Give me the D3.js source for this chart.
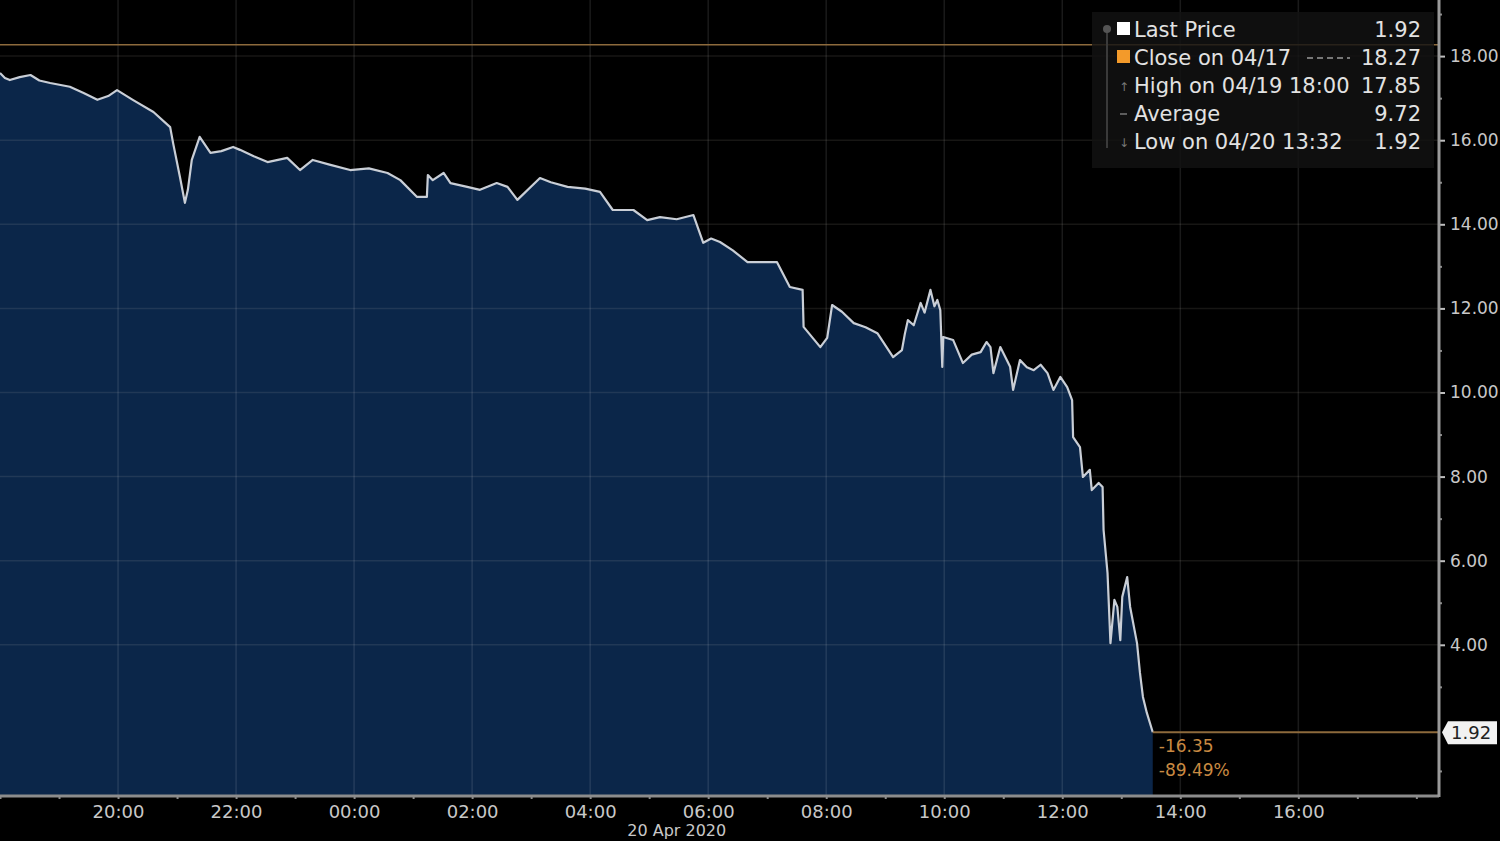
<!DOCTYPE html>
<html><head><meta charset="utf-8">
<script src="https://cdn.jsdelivr.net/npm/d3@7"></script>
<style>body{margin:0;background:#000;overflow:hidden}svg{display:block}</style>
</head><body><svg id="c" width="1500" height="841"></svg>
<script>
// ---- data ----
const times = [
"2020-04-19 18:00","2020-04-19 18:05","2020-04-19 18:10","2020-04-19 18:20","2020-04-19 18:31","2020-04-19 18:40","2020-04-19 18:51","2020-04-19 19:11",
"2020-04-19 19:25","2020-04-19 19:39","2020-04-19 19:50","2020-04-19 19:59","2020-04-19 20:15","2020-04-19 20:36","2020-04-19 20:53","2020-04-19 20:56",
"2020-04-19 21:03","2020-04-19 21:08","2020-04-19 21:11","2020-04-19 21:15","2020-04-19 21:23","2020-04-19 21:34",
"2020-04-19 21:45","2020-04-19 21:57","2020-04-19 22:04","2020-04-19 22:18","2020-04-19 22:32","2020-04-19 22:52","2020-04-19 23:05","2020-04-19 23:18",
"2020-04-19 23:35","2020-04-19 23:56","2020-04-20 00:15","2020-04-20 00:34","2020-04-20 00:47","2020-04-20 01:04","2020-04-20 01:14","2020-04-20 01:15",
"2020-04-20 01:20","2020-04-20 01:31","2020-04-20 01:38","2020-04-20 01:55","2020-04-20 02:08","2020-04-20 02:25",
"2020-04-20 02:36","2020-04-20 02:46","2020-04-20 03:09","2020-04-20 03:20","2020-04-20 03:37","2020-04-20 03:55","2020-04-20 04:10","2020-04-20 04:23",
"2020-04-20 04:44","2020-04-20 04:58","2020-04-20 05:11","2020-04-20 05:28","2020-04-20 05:45","2020-04-20 05:55","2020-04-20 06:03","2020-04-20 06:12",
"2020-04-20 06:25","2020-04-20 06:40","2020-04-20 07:10","2020-04-20 07:23","2020-04-20 07:36","2020-04-20 07:37","2020-04-20 07:54",
"2020-04-20 08:01","2020-04-20 08:06","2020-04-20 08:16","2020-04-20 08:28","2020-04-20 08:40","2020-04-20 08:52","2020-04-20 09:08","2020-04-20 09:17",
"2020-04-20 09:20","2020-04-20 09:23","2020-04-20 09:29","2020-04-20 09:36","2020-04-20 09:40","2020-04-20 09:46","2020-04-20 09:50","2020-04-20 09:53","2020-04-20 09:56","2020-04-20 09:58",
"2020-04-20 09:59","2020-04-20 10:09","2020-04-20 10:19","2020-04-20 10:28","2020-04-20 10:37","2020-04-20 10:43","2020-04-20 10:47","2020-04-20 10:50",
"2020-04-20 10:57","2020-04-20 11:07","2020-04-20 11:10","2020-04-20 11:17","2020-04-20 11:24","2020-04-20 11:31","2020-04-20 11:38","2020-04-20 11:45",
"2020-04-20 11:51","2020-04-20 11:58","2020-04-20 12:05","2020-04-20 12:10","2020-04-20 12:11","2020-04-20 12:18",
"2020-04-20 12:21","2020-04-20 12:28","2020-04-20 12:30","2020-04-20 12:37","2020-04-20 12:41","2020-04-20 12:42",
"2020-04-20 12:46","2020-04-20 12:49","2020-04-20 12:53","2020-04-20 12:56","2020-04-20 12:59","2020-04-20 13:01",
"2020-04-20 13:06","2020-04-20 13:09","2020-04-20 13:16","2020-04-20 13:19","2020-04-20 13:22","2020-04-20 13:26",
"2020-04-20 13:32"];
const prices = [
17.60,17.48,17.43,17.50,17.55,17.42,17.36,17.27,
17.12,16.96,17.05,17.19,16.96,16.67,16.31,15.93,
15.12,14.51,14.82,15.53,16.08,15.70,
15.74,15.84,15.77,15.62,15.48,15.58,15.29,15.53,
15.42,15.29,15.33,15.22,15.05,14.65,14.65,15.17,
15.05,15.22,14.98,14.89,14.82,14.98,
14.89,14.58,15.10,15.00,14.89,14.85,14.77,14.34,
14.34,14.10,14.17,14.12,14.22,13.56,13.66,13.58,
13.38,13.10,13.10,12.51,12.44,11.56,11.08,
11.30,12.08,11.92,11.65,11.55,11.41,10.84,11.01,
11.40,11.72,11.60,12.13,11.90,12.44,12.05,12.20,11.96,10.61,
11.32,11.25,10.70,10.90,10.96,11.20,11.08,10.46,
11.08,10.61,10.06,10.77,10.60,10.53,10.66,10.46,
10.06,10.37,10.13,9.82,8.94,8.70,
7.99,8.16,7.68,7.85,7.75,6.73,
5.71,4.04,5.07,4.90,4.11,5.14,
5.61,4.90,4.04,3.33,2.76,2.38,
1.92];
const closePrev = 18.27;
const lastPrice = 1.92;
const yTickValues = [4, 6, 8, 10, 12, 14, 16, 18];
const yMinorValues = [1, 3, 5, 7, 9, 11, 13, 15, 17, 19];
const legendLabels = ["Last Price", "Close on 04/17", "High on 04/19 18:00", "Average", "Low on 04/20 13:32"];
const legendValues = ["1.92", "18.27", "17.85", "9.72", "1.92"];
const changeLabels = ["-16.35", "-89.49%"];
const dateLabel = "20 Apr 2020";
const xStart = "2020-04-19 18:00", xEnd = "2020-04-20 18:22";

// ---- layout ----
const W = 1500, H = 841;
const plotR = 1438, plotB = 795;
const font = "'DejaVu Sans', sans-serif";
const parse = d3.timeParse("%Y-%m-%d %H:%M");
const data = times.map((t, i) => ({t: parse(t), v: prices[i]}));

const x = d3.scaleTime().domain([parse(xStart), parse(xEnd)]).range([0, plotR]);
const y = d3.scaleLinear().domain([0.428, 19.334]).range([plotB, 0]);

const svg = d3.select("#c");
svg.append("rect").attr("width", W).attr("height", H).attr("fill", "#000");

// area
svg.append("path").datum(data)
  .attr("fill", "#0b2649")
  .attr("d", d3.area().x(d => x(d.t)).y0(plotB).y1(d => y(d.v)));

// grid
const g = svg.append("g");
g.selectAll(".vg").data(x.ticks(d3.timeHour.every(2)).filter(d => x(d) > 5 && x(d) < plotR - 30)).join("line")
  .attr("x1", d => x(d)).attr("x2", d => x(d)).attr("y1", 0).attr("y2", plotB)
  .attr("stroke", "rgba(255,255,255,0.10)").attr("stroke-width", 1.5);
g.selectAll(".hg").data(yTickValues).join("line")
  .attr("x1", 0).attr("x2", plotR).attr("y1", d => y(d)).attr("y2", d => y(d))
  .attr("stroke", "rgba(255,240,220,0.09)").attr("stroke-width", 1.5);

// close line
svg.append("line").attr("x1", 0).attr("x2", plotR).attr("y1", y(closePrev)).attr("y2", y(closePrev))
  .attr("stroke", "#8d6a3c").attr("stroke-width", 1.5);

// price line
svg.append("path").datum(data)
  .attr("fill", "none").attr("stroke", "#c9ced6").attr("stroke-width", 2.2)
  .attr("stroke-linejoin", "round")
  .attr("d", d3.line().x(d => x(d.t)).y(d => y(d.v)));

// last price line
const lastT = data[data.length - 1].t;
svg.append("line").attr("x1", x(lastT)).attr("x2", plotR).attr("y1", y(lastPrice)).attr("y2", y(lastPrice))
  .attr("stroke", "#8d6a3c").attr("stroke-width", 2);

// change labels
svg.selectAll(".chg").data(changeLabels).join("text")
  .attr("x", x(lastT) + 6).attr("y", (d, i) => y(lastPrice) + 20 + i * 24)
  .attr("fill", "#c98a42").attr("font-family", font).attr("font-size", 17)
  .text(d => d);

// bottom axis
const xAxis = d3.axisBottom(x).ticks(d3.timeHour.every(1)).tickSize(4).tickPadding(6)
  .tickFormat(d => (d.getHours() % 2 === 0 && d.getHours() !== 18) ? d3.timeFormat("%H:%M")(d) : "");
const xa = svg.append("g").attr("transform", `translate(0,${plotB})`).call(xAxis);
xa.select(".domain").remove();
xa.selectAll("line").attr("stroke", "#8a8a8a").attr("stroke-width", 2);
xa.selectAll("text").attr("fill", "#c8c8c8").attr("font-family", font).attr("font-size", 18);
svg.append("line").attr("x1", 0).attr("x2", plotR + 1).attr("y1", plotB + 1).attr("y2", plotB + 1)
  .attr("stroke", "#8c8c8c").attr("stroke-width", 3);
svg.append("text").attr("x", x(parse("2020-04-20 05:28"))).attr("y", 836).attr("text-anchor", "middle")
  .attr("fill", "#c8c8c8").attr("font-family", font).attr("font-size", 16).text(dateLabel);

// right axis
const yAxis = d3.axisRight(y).tickValues(yTickValues).tickSize(7).tickPadding(5).tickFormat(d3.format(".2f"));
const ya = svg.append("g").attr("transform", `translate(${plotR},0)`).call(yAxis);
ya.select(".domain").remove();
ya.selectAll("line").attr("stroke", "#bdbdbd").attr("stroke-width", 2);
ya.selectAll("text").attr("fill", "#c8c8c8").attr("font-family", font).attr("font-size", 17);
const yaMinor = svg.append("g").attr("transform", `translate(${plotR},0)`)
  .call(d3.axisRight(y).tickValues(yMinorValues).tickSize(4).tickFormat(""));
yaMinor.select(".domain").remove();
yaMinor.selectAll("line").attr("stroke", "#8a8a8a").attr("stroke-width", 2);
svg.append("line").attr("x1", plotR + 1).attr("x2", plotR + 1).attr("y1", 0).attr("y2", plotB + 2)
  .attr("stroke", "#9a9a9a").attr("stroke-width", 3);

// last price tag
const ty = y(lastPrice);
svg.append("path")
  .attr("d", `M${plotR + 4},${ty} L${plotR + 10},${ty - 11} L${1497},${ty - 11} L${1497},${ty + 12} L${plotR + 10},${ty + 12} Z`)
  .attr("fill", "#f2f2f2");
svg.append("text").attr("x", 1451).attr("y", ty + 7).attr("fill", "#222")
  .attr("font-family", font).attr("font-size", 18).text(lastPrice.toFixed(2));

// legend
const lg = svg.append("g");
lg.append("rect").attr("x", 1092).attr("y", 12).attr("width", 342).attr("height", 156)
  .attr("fill", "#121212").attr("fill-opacity", 0.82);
lg.append("line").attr("x1", 1107).attr("x2", 1107).attr("y1", 28).attr("y2", 148)
  .attr("stroke", "#3a3a3a").attr("stroke-width", 2);
const rowY = i => 37 + i * 28;
lg.selectAll(".ll").data(legendLabels).join("text")
  .attr("x", 1134).attr("y", (d, i) => rowY(i))
  .attr("fill", "#e2e2e2").attr("font-family", font).attr("font-size", 21).text(d => d);
lg.selectAll(".lv").data(legendValues).join("text")
  .attr("x", 1421).attr("y", (d, i) => rowY(i)).attr("text-anchor", "end")
  .attr("fill", "#e2e2e2").attr("font-family", font).attr("font-size", 21).text(d => d);
lg.append("rect").attr("x", 1117).attr("y", rowY(0) - 15).attr("width", 13).attr("height", 13).attr("fill", "#ffffff");
lg.append("rect").attr("x", 1117).attr("y", rowY(1) - 15).attr("width", 13).attr("height", 13).attr("fill", "#f39a2a");
lg.append("line").attr("x1", 1307).attr("x2", 1350).attr("y1", rowY(1) - 7).attr("y2", rowY(1) - 7)
  .attr("stroke", "#777").attr("stroke-width", 2).attr("stroke-dasharray", "6,4");
// small markers for high / average / low
lg.append("text").attr("x", 1124).attr("y", rowY(2) - 2).attr("text-anchor", "middle").attr("fill", "#777")
  .attr("font-family", font).attr("font-size", 12).text("↑");
lg.append("line").attr("x1", 1120).attr("x2", 1127).attr("y1", rowY(3) - 7).attr("y2", rowY(3) - 7)
  .attr("stroke", "#777").attr("stroke-width", 1.5);
lg.append("text").attr("x", 1124).attr("y", rowY(4) - 2).attr("text-anchor", "middle").attr("fill", "#777")
  .attr("font-family", font).attr("font-size", 12).text("↓");
lg.append("circle").attr("cx", 1107).attr("cy", rowY(0) - 8).attr("r", 4).attr("fill", "#555");
</script></body></html>
